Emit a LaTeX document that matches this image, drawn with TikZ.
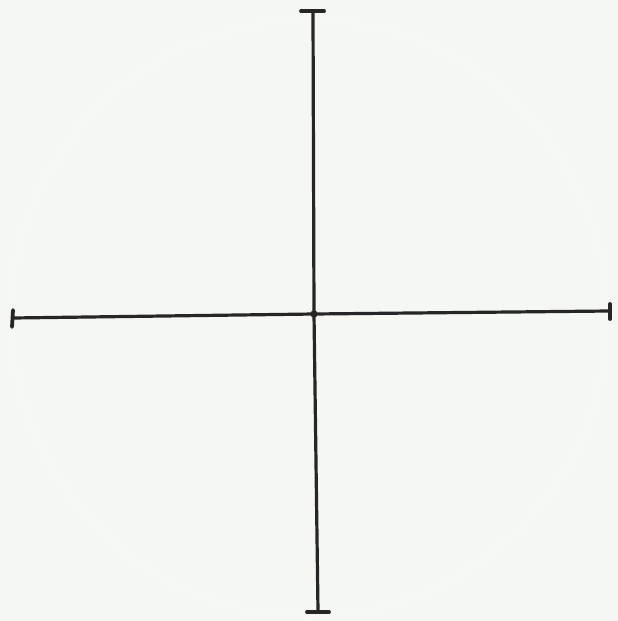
\documentclass[tikz,border=0pt]{standalone}
\definecolor{paper}{RGB}{245,247,243}
\definecolor{ink}{RGB}{38,38,38}
\begin{document}
\begin{tikzpicture}[x=1pt,y=-1pt,
  axisline/.style={draw=ink,line width=3.2pt},
  capline/.style={draw=ink,line width=3.8pt,line cap=round}]
\fill[paper] (0,0) rectangle (618,621);
\useasboundingbox (0,0) rectangle (618,621);
\draw[draw=white!25!paper,line width=1pt] (309,318) circle (298);
\coordinate (c) at (314,314);
\coordinate (top) at (313,12);
\coordinate (bot) at (318,611);
\coordinate (lft) at (13,318);
\coordinate (rgt) at (609,311);
\draw[axisline] (top) -- (c) -- (bot);
\draw[axisline] (lft) -- (c) -- (rgt);
\draw[capline] (301,11) -- (324,11);
\draw[capline] (307,612) -- (329,612);
\draw[capline] (13,310) -- (12,327);
\draw[capline] (610,304) -- (610,319);
\fill[ink] (c) circle (3.6);
\end{tikzpicture}
\end{document}
